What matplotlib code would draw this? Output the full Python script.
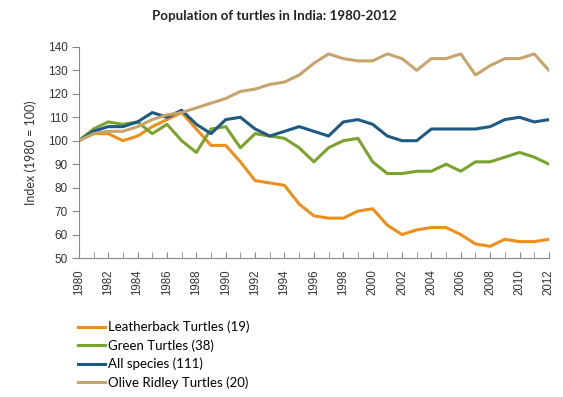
import matplotlib
matplotlib.use("Agg")
import matplotlib.pyplot as plt

# Data (index, 1980 = 100)
years = list(range(1980, 2013))
leatherback = [100, 103, 103, 100, 102, 106, 109, 112, 105, 98, 98, 91, 83, 82, 81, 73,
               68, 67, 67, 70, 71, 64, 60, 62, 63, 63, 60, 56, 55, 58, 57, 57, 58]
green = [100, 105, 108, 107, 108, 103, 107, 100, 95, 105, 106, 97, 103, 102, 101, 97,
         91, 97, 100, 101, 91, 86, 86, 87, 87, 90, 87, 91, 91, 93, 95, 93, 90]
all_species = [100, 104, 106, 106, 108, 112, 110, 113, 107, 103, 109, 110, 105, 102, 104, 106,
               104, 102, 108, 109, 107, 102, 100, 100, 105, 105, 105, 105, 106, 109, 110, 108, 109]
olive = [100, 103, 104, 104, 106, 109, 111, 112, 114, 116, 118, 121, 122, 124, 125, 128,
         133, 137, 135, 134, 134, 137, 135, 130, 135, 135, 137, 128, 132, 135, 135, 137, 130]

labels = ["Leatherback Turtles (19)", "Green Turtles (38)",
          "All species (111)", "Olive Ridley Turtles (20)"]
colors = ["#EE8F1C", "#7AA32B", "#1F5A85", "#C6A46C"]

fig = plt.figure(figsize=(5.63, 3.97), dpi=100)
ax = fig.add_axes([0.140, 0.350, 0.835, 0.532])

for ys, lab, c in zip([leatherback, green, all_species, olive], labels, colors):
    ax.plot(years, ys, color=c, lw=2.2, label=lab, solid_joinstyle="round")

ax.set_xlim(1980, 2012)
ax.set_ylim(50, 140)
ax.set_yticks(range(50, 141, 10))
ax.set_xticks(years, minor=True)
ax.set_xticks(range(1980, 2013, 2))
ax.tick_params(axis="x", which="both", direction="in", length=4, color="#888888",
               labelrotation=90, labelsize=8.3, pad=8)
ax.tick_params(axis="y", direction="out", length=5, color="#888888", labelsize=8.5, pad=3)
for t in ax.get_xticklabels() + ax.get_yticklabels():
    t.set_family("Liberation Sans")
    t.set_color("#333333")

for s in ["top", "right"]:
    ax.spines[s].set_visible(False)
for s in ["left", "bottom"]:
    ax.spines[s].set_color("#888888")
    ax.spines[s].set_linewidth(0.8)

ax.set_ylabel("Index (1980 = 100)", fontsize=9, family="Lato", color="#333333", labelpad=8)
fig.suptitle("Population of turtles in India: 1980-2012", x=0.488, y=0.975,
             fontsize=9.6, fontweight="bold", family="Lato", color="#222222")

fig.legend(loc="upper left", bbox_to_anchor=(0.130, 0.205), frameon=False,
           prop={"family": "Lato", "size": 9.5}, handlelength=2.0, handletextpad=0.25,
           labelspacing=0.45, borderaxespad=0)

fig.savefig("out.png", dpi=100)
